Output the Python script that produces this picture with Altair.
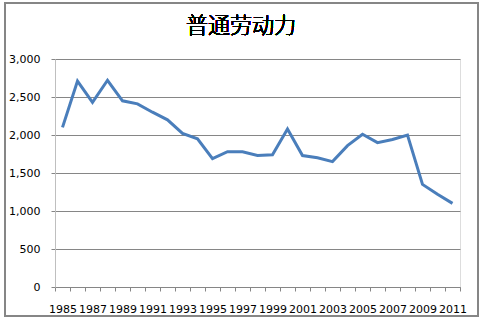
import altair as alt
import pandas as pd

years = [str(y) for y in range(1985, 2012)]
values = [2100, 2710, 2430, 2720, 2450, 2410, 2300, 2200, 2020, 1950,
          1690, 1780, 1780, 1730, 1740, 2080, 1730, 1700, 1650, 1860,
          2010, 1900, 1940, 2000, 1350, 1220, 1100]
title_text = "普通劳动力"
y_ticks = [0, 500, 1000, 1500, 2000, 2500, 3000]

df = pd.DataFrame({"year": years, "value": values})

line = alt.Chart(df).mark_line(color="#4A7EBB", strokeWidth=3).encode(
    x=alt.X("year:O", bandPosition=0.5,
            scale=alt.Scale(type="band", paddingInner=0, paddingOuter=0),
            axis=alt.Axis(title=None, labelAngle=0, tickBand="extent",
                          labelExpr="parseInt(datum.value) % 2 == 1 ? datum.label : ''",
                          labelFont="DejaVu Sans", labelFontSize=11, labelColor="#000000",
                          labelPadding=12, tickSize=4, tickColor="#868686",
                          domainColor="#868686", grid=False, labelOverlap=False)),
    y=alt.Y("value:Q", scale=alt.Scale(domain=[0, 3000], nice=False),
            axis=alt.Axis(title=None, values=y_ticks, format=",.0f",
                          labelFont="DejaVu Sans", labelFontSize=11, labelColor="#000000",
                          labelPadding=11, tickSize=4, tickColor="#868686",
                          domainColor="#BFBFBF", gridColor="#868686", gridWidth=1)),
)

border = alt.Chart(df).mark_rect(fill=None, stroke="#868686", strokeWidth=1.5, clip=False).encode(
    x=alt.value(-50), x2=alt.value(423), y=alt.value(-56), y2=alt.value(29 + 228)
)

title = alt.Chart(df).mark_text(text=title_text, font="Noto Sans CJK SC", fontSize=22,
                                fontWeight=300, color="#000000", clip=False).encode(
    x=alt.value(241 - 55), y=alt.value(26 - 59)
)

chart = alt.layer(line, border, title).properties(
    width=405, height=228,
    autosize=alt.AutoSizeParams(type="none"),
    padding={"left": 55, "top": 59, "right": 23, "bottom": 36},
).configure_view(stroke=None).configure(background="white")

chart.save("out.html", embed_options={"renderer": "svg", "actions": False})
